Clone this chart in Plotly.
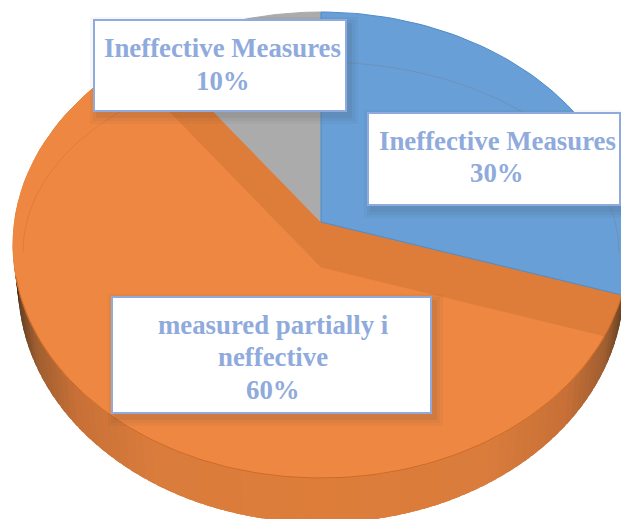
import numpy as np
import plotly.graph_objects as go

# slices, clockwise from 12 o'clock
labels = ["Ineffective Measures", "measured partially i<br>neffective", "Ineffective Measures"]
shares = [30, 60, 10]
colors = ["#689FD6", "#DE7D3A", "#ABABAB"]

# pixel geometry of the tilted pie
CX, CY, RX, RY = 321, 245, 308, 233
APEX = 222
APEX_LOW = 268
RAY_Y = 230
TEXT_COLOR = "#8FAADC"
LINE_PITCH = 32.5

# label boxes: left, top, right, bottom, one per slice
boxes = [(368, 113, 620, 205), (112, 297, 431, 413), (94, 20, 346, 111)]
# middle of each label's text block
text_mid = [(497, 157), (273, 357), (222.5, 64.5)]


def rim_point(angle, apex_y):
    # shoot a ray from the apex and find where it hits the rim ellipse
    dx = RX * np.sin(angle)
    dy = -RAY_Y * np.cos(angle)
    a = (dx / RX) ** 2 + (dy / RY) ** 2
    b = 2 * dy * (apex_y - CY) / RY**2
    c = ((apex_y - CY) / RY) ** 2 - 1
    s = (-b + np.sqrt(b**2 - 4 * a * c)) / (2 * a)
    return CX + s * dx, apex_y + s * dy


def wedge(start, end, apex_y, color, line=None):
    angles = np.linspace(start, end, 80)
    pts = [rim_point(t, apex_y) for t in angles]
    xs = [CX] + [p[0] for p in pts] + [CX]
    ys = [apex_y] + [p[1] for p in pts] + [apex_y]
    return go.Scatter(
        x=xs,
        y=ys,
        mode="lines",
        fill="toself",
        fillcolor=color,
        line=dict(color=line or color, width=1),
        hoverinfo="skip",
    )


def wall_color(t):
    # side wall gets darker toward both edges
    edge = abs(np.sin(t))
    stops = [0, 0.55, 0.8, 0.93, 0.985, 1]
    r = np.interp(edge, stops, [222, 217, 200, 160, 105, 60])
    g = np.interp(edge, stops, [125, 124, 112, 94, 66, 40])
    b = np.interp(edge, stops, [58, 60, 55, 48, 36, 25])
    return f"rgb({r:.0f},{g:.0f},{b:.0f})"


fig = go.Figure()

# side wall of the pie, each strip runs under the next one so no seams show
wall = np.linspace(np.pi / 2, 3 * np.pi / 2, 90)
for t0, t1 in zip(wall[:-1], wall[1:]):
    c = wall_color((t0 + t1) / 2)
    t1 = t1 + 0.06
    fig.add_trace(
        go.Scatter(
            x=[CX + RX * np.sin(t0), CX + RX * np.sin(t1), CX + 303 * np.sin(t1), CX + 303 * np.sin(t0)],
            y=[CY - RY * np.cos(t0), CY - RY * np.cos(t1), 285 - 238 * np.cos(t1), 285 - 238 * np.cos(t0)],
            mode="lines",
            fill="toself",
            fillcolor=c,
            line=dict(width=0),
            hoverinfo="skip",
        )
    )

# top surface, one wedge per share
edges = np.cumsum([0] + shares) / sum(shares) * 2 * np.pi
fig.add_trace(wedge(edges[1], edges[2], APEX, colors[1]))
fig.add_trace(wedge(edges[2], edges[3], APEX, colors[2]))
fig.add_trace(wedge(edges[0], edges[1], APEX, colors[0], line="#4F8BC8"))
# the orange slice sits lower, its cut faces show as the darker band
fig.add_trace(wedge(edges[1], edges[2], APEX_LOW, "#ED8742"))

# darker rim along the front of the top surface
front = np.linspace(np.radians(100), np.radians(262), 120)
fig.add_trace(
    go.Scatter(
        x=CX + RX * np.sin(front),
        y=CY - RY * np.cos(front),
        mode="lines",
        line=dict(color="#CC6A26", width=1),
        hoverinfo="skip",
    )
)

# faint inner bevel line
bevel = np.linspace(-np.pi / 2, np.pi / 2, 120)
fig.add_trace(
    go.Scatter(
        x=CX + 298 * np.sin(bevel),
        y=252 - 190 * np.cos(bevel),
        mode="lines",
        line=dict(color="rgba(150,80,60,0.18)", width=1),
        hoverinfo="skip",
    )
)

# label boxes with soft shadow
for i, (x0, y0, x1, y1) in enumerate(boxes):
    for grow, alpha in [(8, 0.04), (5, 0.05), (2, 0.07)]:
        fig.add_shape(
            type="rect",
            x0=x0 + 4 - grow,
            y0=y0 + 5 - grow,
            x1=x1 + 4 + grow,
            y1=y1 + 5 + grow,
            fillcolor=f"rgba(60,60,60,{alpha})",
            line_width=0,
        )
    fig.add_shape(
        type="rect",
        x0=x0,
        y0=y0,
        x1=x1,
        y1=y1,
        fillcolor="white",
        line=dict(color=TEXT_COLOR, width=2),
    )
    # plotly's own line height is too loose here, so each line is placed on its own
    lines = labels[i].split("<br>") + [f"{shares[i]}%"]
    for j, line in enumerate(lines):
        fig.add_annotation(
            x=text_mid[i][0],
            y=text_mid[i][1] + (j - (len(lines) - 1) / 2) * LINE_PITCH,
            text=f"<b>{line}</b>",
            showarrow=False,
            font=dict(family="Liberation Serif", size=26.8, color=TEXT_COLOR),
        )

fig.update_layout(
    width=621,
    height=519,
    margin=dict(l=0, r=0, t=0, b=0),
    paper_bgcolor="white",
    plot_bgcolor="white",
    showlegend=False,
    xaxis=dict(range=[0, 621], visible=False, fixedrange=True),
    yaxis=dict(range=[519, 0], visible=False, fixedrange=True),
)

# the page's default body margin would push the chart 8px in
fig.write_html(
    "out.html",
    config={"displayModeBar": False},
    post_script="document.body.style.margin = '0';",
)
